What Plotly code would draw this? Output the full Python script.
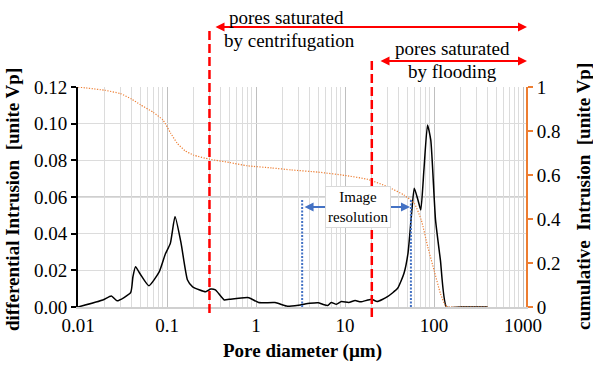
import plotly.graph_objects as go
import math

# ---------------- data ----------------
diam_diff = [0.01, 0.019, 0.0237, 0.0275, 0.039, 0.0414, 0.0443, 0.05, 0.0626, 0.082,
             0.096, 0.109, 0.123, 0.144, 0.17, 0.194, 0.272, 0.31, 0.35, 0.44,
             0.5, 0.83, 1.07, 1.64, 2.2, 3.0, 4.0, 5.0, 5.6, 6.4,
             7.0, 8.0, 9.1, 11, 13, 15, 18, 20, 23, 30,
             39, 46, 51, 56, 60, 66, 71, 77, 84.5, 92,
             104, 118, 138, 200, 400]
diff_vals = [0.0, 0.0038, 0.006, 0.0034, 0.0078, 0.0165, 0.022, 0.018, 0.0116, 0.0193,
             0.029, 0.0347, 0.0493, 0.0347, 0.0147, 0.011, 0.0083, 0.0098, 0.0093, 0.0038,
             0.0042, 0.0051, 0.0024, 0.0024, 0.0005, 0.001, 0.002, 0.0023, 0.0015, 0.0008,
             0.0025, 0.0015, 0.003, 0.0025, 0.0035, 0.0028, 0.0038, 0.0042, 0.003, 0.0056,
             0.0102, 0.0184, 0.0293, 0.0511, 0.0648, 0.0584, 0.0529, 0.0747, 0.0993, 0.091,
             0.0475, 0.0256, 0.0, 0.0, 0.0]

diam_cum = [0.01, 0.02, 0.03, 0.04, 0.05, 0.07, 0.09, 0.11, 0.13, 0.16,
            0.2, 0.3, 0.5, 0.8, 1.5, 2.5, 5, 10, 18, 30,
            46, 60, 72, 85, 100, 118, 135, 150, 400]
cum_vals = [1.0, 0.985, 0.97, 0.945, 0.92, 0.885, 0.85, 0.79, 0.745, 0.71,
            0.69, 0.672, 0.657, 0.642, 0.632, 0.623, 0.613, 0.598, 0.58, 0.547,
            0.509, 0.471, 0.395, 0.274, 0.168, 0.062, 0.005, 0.0, 0.0]

x_tickvals = [0.01, 0.1, 1, 10, 100, 1000]
x_ticktext = ["0.01", "0.1", "1", "10", "100", "1000"]
y_tickvals = [0, 0.02, 0.04, 0.06, 0.08, 0.10, 0.12]
y2_tickvals = [0, 0.2, 0.4, 0.6, 0.8, 1]
y2_ticktext = ["0", "0.2", "0.4", "0.6", "0.8", "1"]

centrifugation_limit = 0.3
flooding_limit = 20
resolution_limits = [3.3, 55]

FONT = "Liberation Serif, Times New Roman, serif"
ORANGE = "#ED7D31"
RED = "#FF0000"
BLUE = "#4472C4"

fig = go.Figure()
fig.add_trace(go.Scatter(x=diam_diff, y=diff_vals, mode="lines",
                         line=dict(color="black", width=1.5, shape="spline", smoothing=0.5),
                         showlegend=False, yaxis="y"))
fig.add_trace(go.Scatter(x=diam_cum, y=cum_vals, mode="lines",
                         line=dict(color=ORANGE, width=1.2, dash="1.2px,1.5px", shape="spline", smoothing=0.5),
                         showlegend=False, yaxis="y2"))

xmax_log = 3 + 3 / 89.6
fig.update_layout(
    width=593, height=369,
    margin=dict(l=78, r=67, t=87, b=62),
    paper_bgcolor="white", plot_bgcolor="white",
    font=dict(family=FONT, size=19, color="black"),
    xaxis=dict(type="log", range=[-2, xmax_log],
               tickvals=x_tickvals, ticktext=x_ticktext,
               showgrid=True, gridcolor="#bfbfbf", gridwidth=1,
               minor=dict(dtick="D1", showgrid=True, gridcolor="#dcdcdc", gridwidth=1),
               showline=True, linecolor="#d0d0d0", linewidth=1.5,
               ticks="", zeroline=False, tickfont=dict(size=19)),
    yaxis=dict(range=[0, 0.12], tickvals=y_tickvals, tickformat=".2f",
               showgrid=True, gridcolor="#dcdcdc", gridwidth=1,
               showline=True, linecolor="black", linewidth=2,
               ticks="outside", ticklen=5, tickcolor="black", tickwidth=1.5,
               zeroline=False, tickfont=dict(size=19)),
    yaxis2=dict(range=[0, 1], overlaying="y", side="right",
                tickvals=y2_tickvals, ticktext=y2_ticktext,
                showgrid=False, zeroline=False,
                showline=True, linecolor=ORANGE, linewidth=2,
                ticks="outside", ticklen=5, tickcolor=ORANGE, tickwidth=1.5,
                tickfont=dict(size=19)),
)

def px_x(p):
    return (p - 78) / 448
def px_y(p):
    return (307 - p) / 220

# darker gridline at 0.06
fig.add_shape(type="line", xref="paper", x0=0, x1=1, yref="y", y0=0.06, y1=0.06,
              line=dict(color="#bfbfbf", width=1.5), layer="below")

# axis titles
fig.add_annotation(text="<b>differential Intrusion  [unite Vp]</b>", textangle=-90,
                   xref="paper", yref="paper", x=px_x(12), y=px_y(200),
                   showarrow=False, font=dict(size=19), xanchor="center", yanchor="middle")
fig.add_annotation(text="<b>cumulative  Intrusion  [unite Vp]</b>", textangle=-90,
                   xref="paper", yref="paper", x=px_x(583), y=px_y(197),
                   showarrow=False, font=dict(size=19), xanchor="center", yanchor="middle")
fig.add_annotation(text="<b>Pore diameter (µm)</b>", xref="paper", yref="paper",
                   x=px_x(302), y=px_y(351), showarrow=False,
                   font=dict(size=19), xanchor="center", yanchor="middle")

# red dashed limit lines (shape x in data units on log axis)
fig.add_shape(type="line", xref="x", yref="paper",
              x0=centrifugation_limit, x1=centrifugation_limit,
              y0=px_y(313), y1=px_y(27),
              line=dict(color=RED, width=2.5, dash="9px,4px"))
fig.add_shape(type="line", xref="x", yref="paper",
              x0=flooding_limit, x1=flooding_limit,
              y0=px_y(317), y1=px_y(61),
              line=dict(color=RED, width=2.5, dash="9px,4px"))

# red arrows
fig.add_annotation(xref="paper", yref="paper", x=px_x(527), y=px_y(27),
                   axref="pixel", ayref="pixel", ax=-(527 - 214), ay=0,
                   showarrow=True, arrowhead=2, startarrowhead=2, arrowside="end+start",
                   arrowcolor=RED, arrowwidth=1.8, arrowsize=1, text="")
fig.add_annotation(xref="paper", yref="paper", x=px_x(527), y=px_y(61),
                   axref="pixel", ayref="pixel", ax=-(527 - 379), ay=0,
                   showarrow=True, arrowhead=2, startarrowhead=2, arrowside="end+start",
                   arrowcolor=RED, arrowwidth=1.8, arrowsize=1, text="")

for txt, cx, cy in [("pores saturated", 286, 17), ("by centrifugation", 289, 40),
                    ("pores saturated", 452, 48), ("by flooding", 452, 71)]:
    fig.add_annotation(text=txt, xref="paper", yref="paper",
                       x=px_x(cx), y=px_y(cy), showarrow=False, font=dict(size=19),
                       xanchor="center", yanchor="middle")

# image resolution
for v in resolution_limits:
    fig.add_shape(type="line", xref="x", yref="paper",
                  x0=v, x1=v, y0=0, y1=px_y(200),
                  line=dict(color=BLUE, width=2, dash="2px,1.5px"))
fig.add_annotation(xref="x", yref="paper", x=math.log10(resolution_limits[1]) - 0.01, y=px_y(207),
                   axref="x", ayref="pixel", ax=math.log10(resolution_limits[0]) + 0.01, ay=0,
                   showarrow=True, arrowhead=2, startarrowhead=2, arrowside="end+start",
                   arrowcolor=BLUE, arrowwidth=1.8, arrowsize=1, text="")
fig.add_annotation(text="Image<br>resolution", xref="paper", yref="paper",
                   x=px_x(358), y=px_y(207), showarrow=False, font=dict(size=15),
                   bgcolor="white", bordercolor="#d9d9d9", borderwidth=1, borderpad=2,
                   xanchor="center", yanchor="middle")

fig.write_html("out.html")
